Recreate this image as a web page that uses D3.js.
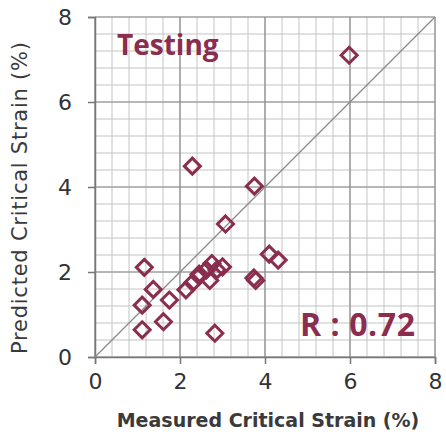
<!DOCTYPE html>
<html>
<head>
<meta charset="utf-8">
<script src="https://cdn.jsdelivr.net/npm/d3@7"></script>
<style>
  body { margin: 0; background: #fff; }
  svg { display: block; }
</style>
</head>
<body>
<div class="graph"></div>
<script>
let w = 446;
let h = 439;

// measured (x) vs predicted (y) critical strain, %
let measured = [5.98, 2.29, 3.75, 3.07, 1.16, 1.37, 1.11, 1.75, 1.61, 1.11, 2.82,
  2.14, 2.30, 2.45, 2.62, 2.75, 2.70, 3.00, 3.74, 3.78, 4.10, 4.31, 2.45, 2.87];
let predicted = [7.10, 4.49, 4.02, 3.13, 2.11, 1.59, 1.22, 1.34, 0.83, 0.64, 0.56,
  1.58, 1.75, 1.90, 2.05, 2.20, 1.80, 2.12, 1.86, 1.80, 2.42, 2.28, 1.95, 2.05];
let ticks = [0, 2, 4, 6, 8];
let minorTicks = d3.range(0, 8.01, 0.4);

let maroon = "#8a2d4e";

let svgvar = d3
  .select(".graph")
  .append("svg")
  .attr("width", w)
  .attr("height", h);

svgvar.append("rect").attr("width", w).attr("height", h).attr("fill", "#fff");

let xScale = d3.scaleLinear().domain([0, 8]).range([95, 435]);
let yScale = d3.scaleLinear().domain([0, 8]).range([357, 17]);

// minor grid
svgvar
  .append("g")
  .selectAll("line")
  .data(minorTicks)
  .enter()
  .append("line")
  .attr("x1", (d) => xScale(d))
  .attr("x2", (d) => xScale(d))
  .attr("y1", yScale(0))
  .attr("y2", yScale(8))
  .attr("stroke", "#c4c4c4")
  .attr("stroke-width", 1);

svgvar
  .append("g")
  .selectAll("line")
  .data(minorTicks)
  .enter()
  .append("line")
  .attr("y1", (d) => yScale(d))
  .attr("y2", (d) => yScale(d))
  .attr("x1", xScale(0))
  .attr("x2", xScale(8))
  .attr("stroke", "#c4c4c4")
  .attr("stroke-width", 1);

// major grid
svgvar
  .append("g")
  .selectAll("line")
  .data(ticks)
  .enter()
  .append("line")
  .attr("x1", (d) => xScale(d))
  .attr("x2", (d) => xScale(d))
  .attr("y1", yScale(0))
  .attr("y2", yScale(8))
  .attr("stroke", "#8c8c8c")
  .attr("stroke-width", 1.2);

svgvar
  .append("g")
  .selectAll("line")
  .data(ticks)
  .enter()
  .append("line")
  .attr("y1", (d) => yScale(d))
  .attr("y2", (d) => yScale(d))
  .attr("x1", xScale(0))
  .attr("x2", xScale(8))
  .attr("stroke", "#8c8c8c")
  .attr("stroke-width", 1.2);

// axes
let xAxis = d3.axisBottom(xScale).tickValues(ticks).tickSize(7).tickPadding(9);
let yAxis = d3.axisLeft(yScale).tickValues(ticks).tickSize(7).tickPadding(16);

let gx = svgvar
  .append("g")
  .attr("transform", "translate(0," + yScale(0) + ")")
  .call(xAxis);
let gy = svgvar
  .append("g")
  .attr("transform", "translate(" + xScale(0) + ",0)")
  .call(yAxis);

[gx, gy].forEach(function (g) {
  g.select(".domain").attr("stroke", "#777").attr("stroke-width", 1.5);
  g.selectAll(".tick line").attr("stroke", "#777").attr("stroke-width", 1.5);
  g.selectAll(".tick text")
    .attr("fill", "#333")
    .style("font-family", "DejaVu Sans, sans-serif")
    .style("font-size", "22px");
});

// y = x line
svgvar
  .append("line")
  .attr("x1", xScale(0))
  .attr("y1", yScale(0))
  .attr("x2", xScale(8))
  .attr("y2", yScale(8))
  .attr("stroke", "#8a8a8a")
  .attr("stroke-width", 1.2);

// points
let dataset = measured.map((m, i) => ({ x: m, y: predicted[i] }));
let diamond = "M0,-8L8,0L0,8L-8,0Z";

svgvar
  .append("g")
  .selectAll("path")
  .data(dataset)
  .enter()
  .append("path")
  .attr("d", diamond)
  .attr("transform", (d) => "translate(" + xScale(d.x) + "," + yScale(d.y) + ")")
  .attr("fill", "none")
  .attr("stroke", maroon)
  .attr("stroke-width", 3);

// labels
svgvar
  .append("text")
  .attr("x", 117)
  .attr("y", 55)
  .text("Testing")
  .attr("fill", maroon)
  .style("font-family", "Open Sans, sans-serif")
  .style("font-weight", "bold")
  .style("font-size", "28px");

svgvar
  .append("text")
  .attr("x", 300)
  .attr("y", 336)
  .attr("textLength", 115)
  .text("R : 0.72")
  .attr("fill", maroon)
  .style("font-family", "Open Sans, sans-serif")
  .style("font-weight", "bold")
  .style("font-size", "32px");

svgvar
  .append("text")
  .attr("x", 268)
  .attr("y", 427)
  .attr("text-anchor", "middle")
  .text("Measured Critical Strain (%)")
  .attr("fill", "#3a3a3a")
  .style("font-family", "DejaVu Sans, sans-serif")
  .style("font-weight", "bold")
  .style("font-size", "19px");

svgvar
  .append("text")
  .attr("transform", "translate(27,198) rotate(-90)")
  .attr("text-anchor", "middle")
  .attr("textLength", 312)
  .text("Predicted Critical Strain (%)")
  .attr("fill", "#3a3a3a")
  .style("font-family", "DejaVu Sans, sans-serif")
  .style("font-size", "21px");
</script>
</body>
</html>
